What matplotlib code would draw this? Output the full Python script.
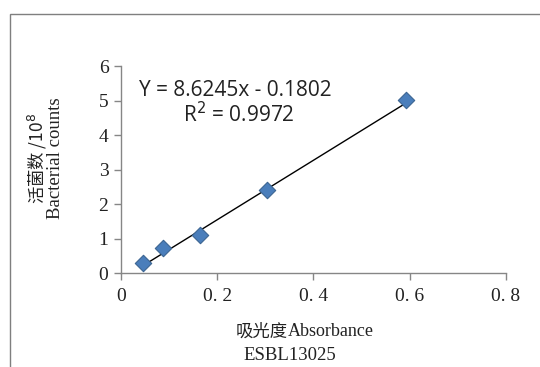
import numpy as np
import matplotlib
matplotlib.use("Agg")
import matplotlib.pyplot as plt
import matplotlib.patches as patches

# data
absorbance = [0.046, 0.087, 0.164, 0.303, 0.593]
counts = [0.30, 0.72, 1.10, 2.42, 5.02]
slope = 8.6245
intercept = -0.1802
r2 = 0.9972

x_ticks = [0, 0.2, 0.4, 0.6, 0.8]
x_tick_labels = ["0", "0. 2", "0. 4", "0. 6", "0. 8"]
y_ticks = [0, 1, 2, 3, 4, 5, 6]

AXIS_GREY = "#868686"
MARKER_BLUE = "#4a7ebb"

fig = plt.figure(figsize=(5.40, 3.67), dpi=100)
ax = fig.add_axes([0.224, 0.256, 0.713, 0.564])

# outer chart-area frame (cut off at right and bottom like the screenshot)
frame = patches.Rectangle(
    (10 / 540, -0.2), 1.2, 1.2 - 14 / 367,
    transform=fig.transFigure, fill=False,
    edgecolor="#7f7f7f", linewidth=1.0, clip_on=False
)
fig.patches.append(frame)

# trendline over the data range
xs = np.array([min(absorbance), max(absorbance)])
ax.plot(xs, slope * xs + intercept, color="black", linewidth=1.0, zorder=2)

ax.scatter(absorbance, counts, marker="D", s=70, color=MARKER_BLUE,
           edgecolor="#3b6592", linewidth=0.8, zorder=3)

ax.set_xlim(0, 0.8)
ax.set_ylim(0, 6)
ax.set_xticks(x_ticks)
ax.set_xticklabels(x_tick_labels)
ax.set_yticks(y_ticks)

for side in ("top", "right"):
    ax.spines[side].set_visible(False)
for side in ("left", "bottom"):
    ax.spines[side].set_color(AXIS_GREY)
    ax.spines[side].set_linewidth(1.0)

ax.tick_params(axis="both", direction="out", length=5, width=1.0,
               color=AXIS_GREY, labelsize=14, labelcolor="#222222")
ax.tick_params(axis="x", pad=6)
ax.tick_params(axis="y", pad=4)
for lab in ax.get_xticklabels() + ax.get_yticklabels():
    lab.set_family(["Liberation Serif", "DejaVu Serif"])

# equation text
ax.text(0.237, 5.3, f"Y = {slope}x - {abs(intercept)}",
        fontsize=15, family="Open Sans", color="#222222",
        ha="center", va="center")
ax.text(0.245, 4.58, f"R$^2$ = {r2}",
        fontsize=15, family="Open Sans", color="#222222",
        ha="center", va="center")

# y label (two lines)
fig.text(37 / 540, 1 - 158 / 367, "活菌数 /10$^8$", rotation=90,
         fontsize=12.5, family=["Noto Sans CJK SC", "DejaVu Sans"],
         ha="center", va="center", color="#222222")
fig.text(56 / 540, 1 - 158 / 367, "Bacterial counts", rotation=90,
         fontsize=13.5, family=["Liberation Serif", "DejaVu Serif"],
         ha="center", va="center", color="#222222")

# x label (two lines)
fig.text(288 / 540, 1 - 332 / 367, "吸光度", fontsize=12.5,
         family=["Noto Sans CJK SC", "DejaVu Sans"],
         ha="right", va="center", color="#222222")
fig.text(288 / 540, 1 - 332 / 367, "Absorbance", fontsize=13,
         family=["Liberation Serif", "DejaVu Serif"],
         ha="left", va="center", color="#222222")
fig.text(290 / 540, 1 - 356 / 367, "ESBL13025", fontsize=13.5,
         family=["Liberation Serif", "DejaVu Serif"],
         ha="center", va="center", color="#222222")

fig.savefig("out.png", dpi=100, facecolor="white")
